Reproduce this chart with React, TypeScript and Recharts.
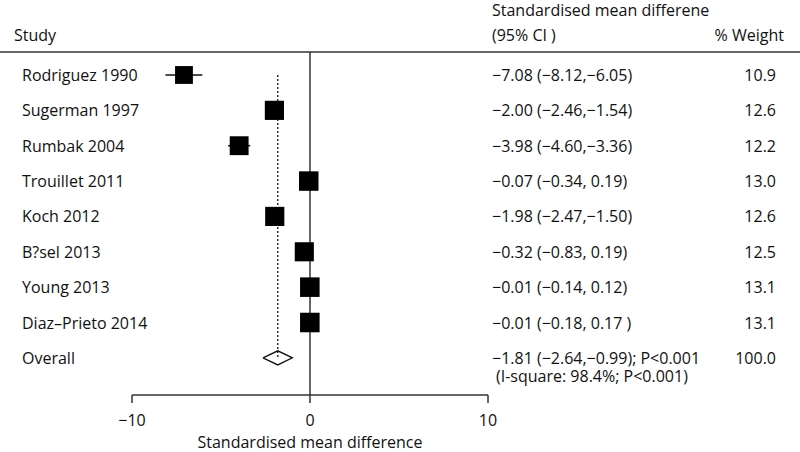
import { ScatterChart, Scatter, XAxis, YAxis, ErrorBar, ReferenceLine } from "recharts";

const STUDIES = [
  "Rodriguez 1990",
  "Sugerman 1997",
  "Rumbak 2004",
  "Trouillet 2011",
  "Koch 2012",
  "B?sel 2013",
  "Young 2013",
  "Diaz\u2013Prieto 2014",
];
const SMD = [-7.08, -2.0, -3.98, -0.07, -1.98, -0.32, -0.01, -0.01];
const LOWER = [-8.12, -2.46, -4.6, -0.34, -2.47, -0.83, -0.14, -0.18];
const UPPER = [-6.05, -1.54, -3.36, 0.19, -1.5, 0.19, 0.12, 0.17];
const WEIGHT = [10.9, 12.6, 12.2, 13.0, 12.6, 12.5, 13.1, 13.1];
const CI_TEXT = [
  "\u22127.08 (\u22128.12,\u22126.05)",
  "\u22122.00 (\u22122.46,\u22121.54)",
  "\u22123.98 (\u22124.60,\u22123.36)",
  "\u22120.07 (\u22120.34, 0.19)",
  "\u22121.98 (\u22122.47,\u22121.50)",
  "\u22120.32 (\u22120.83, 0.19)",
  "\u22120.01 (\u22120.14, 0.12)",
  "\u22120.01 (\u22120.18, 0.17 )",
];

const OVERALL_LABEL = "Overall";
const OVERALL_SMD = -1.81;
const OVERALL_LOWER = -2.64;
const OVERALL_UPPER = -0.99;
const OVERALL_WEIGHT = "100.0";
const OVERALL_TEXT = "\u22121.81 (\u22122.64,\u22120.99); P<0.001";
const OVERALL_NOTE = "(I-square: 98.4%; P<0.001)";

const X_TICKS = [-10, 0, 10];

const FONT = "'Open Sans', 'Noto Sans', sans-serif";
const FS = 16;
const INK = "#111";
const LINE = "#333";

const studyPoints = STUDIES.map((s, i) => ({
  x: SMD[i],
  row: i,
  err: [SMD[i] - LOWER[i], UPPER[i] - SMD[i]],
  w: WEIGHT[i],
}));

const oRow = STUDIES.length;
const textRows = [
  ...STUDIES.map((s, i) => ({ x: 0, row: i, label: s, ci: CI_TEXT[i], wt: WEIGHT[i].toFixed(1), note: "" })),
  { x: 0, row: oRow, label: OVERALL_LABEL, ci: OVERALL_TEXT, wt: OVERALL_WEIGHT, note: OVERALL_NOTE },
];

// diamond outline: lower CI -> estimate (top) -> upper CI -> estimate (bottom)
const diamond = [
  { x: OVERALL_LOWER, row: oRow },
  { x: OVERALL_SMD, row: oRow - 0.2 },
  { x: OVERALL_UPPER, row: oRow },
  { x: OVERALL_SMD, row: oRow + 0.2 },
  { x: OVERALL_LOWER, row: oRow },
];

const Square = (p: any) => {
  const s = 5.4 * Math.sqrt(p.payload.w);
  return <rect x={p.cx - s / 2} y={p.cy - s / 2} width={s} height={s} fill="#000" />;
};

const RowText = (p: any) => {
  const d = p.payload;
  const st = { fontSize: FS, fill: INK, fontFamily: FONT };
  return (
    <g>
      <text x={22} y={p.cy} dominantBaseline="central" {...st}>{d.label}</text>
      <text x={492} y={p.cy} dominantBaseline="central" {...st}>{d.ci}</text>
      <text x={776} y={p.cy} dominantBaseline="central" textAnchor="end" {...st}>{d.wt}</text>
      {d.note && (
        <text x={496} y={p.cy + 18} dominantBaseline="central" {...st}>{d.note}</text>
      )}
    </g>
  );
};

const fmtTick = (v: number) => (v < 0 ? "\u2212" + Math.abs(v) : String(v));

export default function App() {
  return (
    <div style={{ position: "absolute", left: 0, top: 0, width: 800, height: 452, background: "#fff", fontFamily: FONT }}>
      <ScatterChart width={800} height={452} margin={{ top: 52, right: 312, bottom: 0, left: 132 }}>
        <XAxis
          type="number"
          dataKey="x"
          domain={[-10, 10]}
          ticks={X_TICKS}
          tickFormatter={fmtTick}
          height={57}
          tickSize={8}
          tickMargin={12}
          axisLine={{ stroke: LINE, strokeWidth: 1.5 }}
          tickLine={{ stroke: LINE, strokeWidth: 1.5 }}
          tick={{ fill: INK, fontSize: FS, fontFamily: FONT }}
          label={{ value: "Standardised mean difference", position: "insideBottom", offset: 4, fill: INK, fontSize: FS, fontFamily: FONT }}
        />
        <YAxis type="number" dataKey="row" domain={[-0.65, 9.05]} reversed hide />
        <ReferenceLine x={0} stroke={LINE} strokeWidth={1.5} />
        <ReferenceLine
          segment={[
            { x: OVERALL_SMD, y: 0 },
            { x: OVERALL_SMD, y: oRow },
          ]}
          stroke={INK}
          strokeWidth={1.3}
          strokeDasharray="2 2"
        />
        <Scatter data={studyPoints} shape={Square} isAnimationActive={false}>
          <ErrorBar dataKey="err" direction="x" width={0} stroke={INK} strokeWidth={1.5} />
        </Scatter>
        <Scatter
          data={diamond}
          line={{ stroke: INK, strokeWidth: 1.3 }}
          lineType="joint"
          lineJointType="linear"
          shape={() => <g />}
          isAnimationActive={false}
        />
        <Scatter data={textRows} shape={RowText} isAnimationActive={false} />
      </ScatterChart>
      <svg width={800} height={452} style={{ position: "absolute", left: 0, top: 0, pointerEvents: "none" }}>
        <line x1={0} y1={52} x2={800} y2={52} stroke={LINE} strokeWidth={1.5} />
        <g fontSize={FS} fill={INK} fontFamily={FONT}>
          <text x={14} y={35} dominantBaseline="central">Study</text>
          <text x={492} y={10} dominantBaseline="central">Standardised mean differene</text>
          <text x={492} y={35} dominantBaseline="central">(95% CI )</text>
          <text x={784} y={35} dominantBaseline="central" textAnchor="end">% Weight</text>
        </g>
      </svg>
    </div>
  );
}
